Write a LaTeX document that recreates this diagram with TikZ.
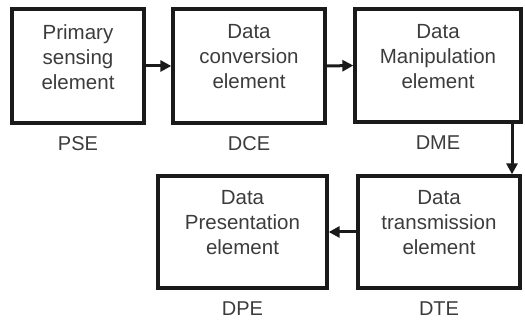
\documentclass[tikz,border=0pt]{standalone}
\usepackage{fontspec}
\setmainfont{Liberation Sans}
\usetikzlibrary{arrows.meta, positioning}
\definecolor{boxLine}{HTML}{1A1A1A}
\definecolor{textGray}{HTML}{3C3C3C}
\tikzset{
  flow/.style={-{Triangle[length=11pt, width=11pt]}, draw=boxLine, line width=3pt},
  blockBox/.style={rectangle, draw=boxLine, line width=3.3pt, inner sep=0pt},
  blockText/.style={align=center, text=textGray, font=\fontsize{20.5}{25}\selectfont},
  tagText/.style={text=textGray, font=\fontsize{20}{22}\selectfont, inner sep=0pt},
}

\begin{document}
\begin{tikzpicture}[x=1pt, y=-1pt]
    \useasboundingbox (0,0) rectangle (525,320);
    % the five blocks of the measuring system
    \node[blockBox, minimum width=132pt, minimum height=114pt] (pse) at (78,66) {};
    \node[blockBox, minimum width=152pt, minimum height=114pt] (dce) at (249,66) {};
    \node[blockBox, minimum width=166pt, minimum height=113pt] (dme) at (438,65.5) {};
    \node[blockBox, minimum width=162pt, minimum height=112pt] (dte) at (439,232) {};
    \node[blockBox, minimum width=169pt, minimum height=112pt] (dpe) at (242.5,232) {};
    % block texts sit a little above the centre
    \node[blockText] (pse-t) at ([yshift=9pt]pse.center) {Primary\\sensing\\element};
    \node[blockText] (dce-t) at ([yshift=9pt]dce.center) {Data\\conversion\\element};
    \node[blockText] (dme-t) at ([yshift=9pt]dme.center) {Data\\Manipulation\\element};
    \node[blockText] (dte-t) at ([yshift=9pt]dte.center) {Data\\transmission\\element};
    \node[blockText] (dpe-t) at ([yshift=9pt]dpe.center) {Data\\Presentation\\element};
    % short names under the blocks
    \node[tagText, below=12pt of pse] (pse-l) {PSE};
    \node[tagText, below=12pt of dce] (dce-l) {DCE};
    \node[tagText, below=12pt of dme] (dme-l) {DME};
    \node[tagText, below=12pt of dte] (dte-l) {DTE};
    \node[tagText, below=12pt of dpe] (dpe-l) {DPE};
    % signal flow
    \draw[flow] (pse.east) -- (dce.west);
    \draw[flow] (dce.east) -- (dme.west);
    \draw[flow] ([xshift=74pt]dme.south) -- ([xshift=73pt]dte.north);
    \draw[flow] (dte.west) -- (dpe.east);
\end{tikzpicture}
\end{document}
